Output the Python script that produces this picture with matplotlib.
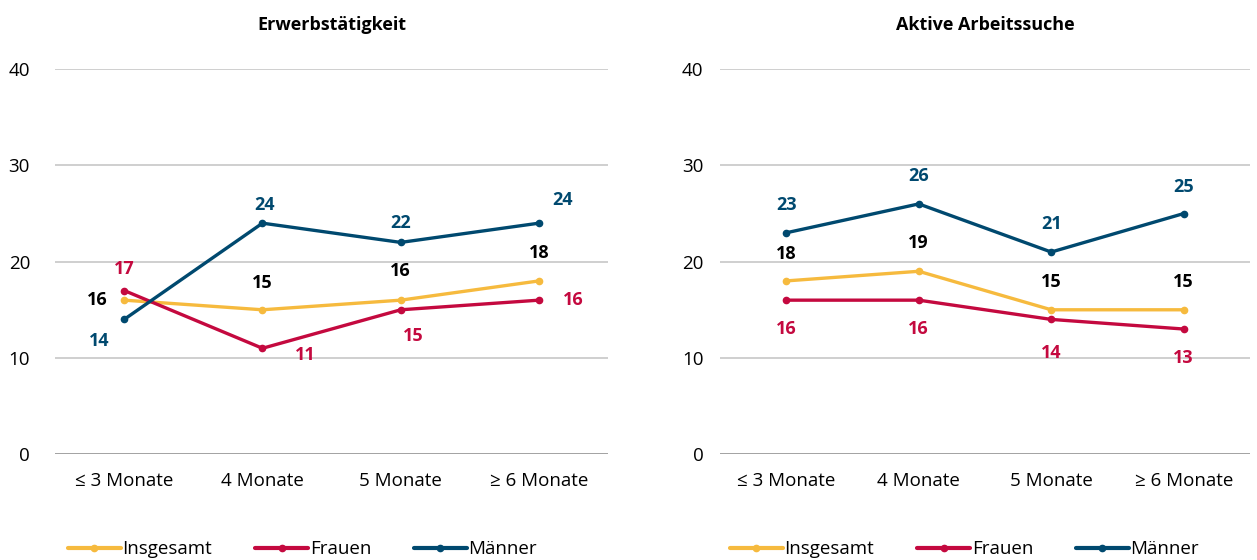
"""Erwerbstätigkeit und aktive Arbeitssuche nach Bezugsdauer."""

import matplotlib

matplotlib.use("Agg")
import matplotlib.pyplot as plt

categories = ["≤ 3 Monate", "4 Monate", "5 Monate", "≥ 6 Monate"]
series_names = ["Insgesamt", "Frauen", "Männer"]

erwerb_insgesamt = [16, 15, 16, 18]
erwerb_frauen = [17, 11, 15, 16]
erwerb_maenner = [14, 24, 22, 24]

suche_insgesamt = [18, 19, 15, 15]
suche_frauen = [16, 16, 14, 13]
suche_maenner = [23, 26, 21, 25]

COLORS = ["#F6BA3E", "#C4093F", "#00496F"]
LABEL_COLORS = ["#000000", "#C4093F", "#00496F"]
FONT = "Open Sans"
SIZE = 13.5
LABEL_SIZE = 13

# label offsets in pixels (dx, dy) per series and point
erwerb_offsets = [
    [(-27, 0), (0, 27), (0, 29), (0, 28)],
    [(0, 22), (43, -7), (13, -26), (34, 0)],
    [(-25, -22), (2, 18), (0, 19), (24, 23)],
]
suche_offsets = [
    [(0, 27), (0, 28), (0, 28), (0, 28)],
    [(0, -29), (0, -29), (0, -34), (0, -29)],
    [(0, 28), (0, 28), (0, 28), (0, 27)],
]


def draw_panel(ax, title, values, offsets, ytick_pad, legend_x):
    x = list(range(len(categories)))
    for name, vals, color, lcolor, offs in zip(series_names, values, COLORS, LABEL_COLORS, offsets):
        ax.plot(x, vals, color=color, linewidth=2.4, marker="o", markersize=4.5,
                label=name, solid_capstyle="round", zorder=3)
        for xi, v, (dx, dy) in zip(x, vals, offs):
            ax.annotate(str(v), (xi, v), xytext=(dx, dy), textcoords="offset pixels",
                        ha="center", va="center", fontsize=LABEL_SIZE, fontweight="bold",
                        color=lcolor, family=FONT)
    ax.set_xlim(-0.5, len(categories) - 0.5)
    ax.set_ylim(0, 40)
    ax.set_yticks([0, 10, 20, 30, 40])
    ax.set_xticks(x)
    ax.set_xticklabels(categories, family=FONT, fontsize=SIZE)
    for lab in ax.get_yticklabels():
        lab.set_family(FONT)
        lab.set_fontsize(SIZE)
    ax.tick_params(axis="both", length=0)
    ax.tick_params(axis="y", pad=ytick_pad)
    ax.tick_params(axis="x", pad=13)
    ax.grid(axis="y", color="#CCCCCC", linewidth=1.3, zorder=0)
    ax.set_axisbelow(True)
    for spine in ax.spines.values():
        spine.set_visible(False)
    ax.axhline(0, color="#A0A0A0", linewidth=1.3, zorder=1)
    ax.set_title(title, fontsize=13, fontweight="bold", family=FONT, pad=28)
    leg = ax.legend(loc="center left", bbox_to_anchor=(legend_x, -0.247), ncol=3, frameon=False,
                    prop={"family": FONT, "size": SIZE}, handlelength=2.8,
                    handletextpad=0.1, columnspacing=2.3, borderaxespad=0, borderpad=0)
    for line in leg.get_lines():
        line.set_linewidth(3.0)


fig = plt.figure(figsize=(12.57, 5.6), dpi=100)
ax1 = fig.add_axes([0.0438, 0.189, 0.44, 0.6875])
ax2 = fig.add_axes([0.5728, 0.189, 0.4216, 0.6875])

draw_panel(ax1, "Erwerbstätigkeit", [erwerb_insgesamt, erwerb_frauen, erwerb_maenner],
           erwerb_offsets, 18, 0.0235)
draw_panel(ax2, "Aktive Arbeitssuche", [suche_insgesamt, suche_frauen, suche_maenner],
           suche_offsets, 12, 0.019)

fig.savefig("out.png", dpi=100)
